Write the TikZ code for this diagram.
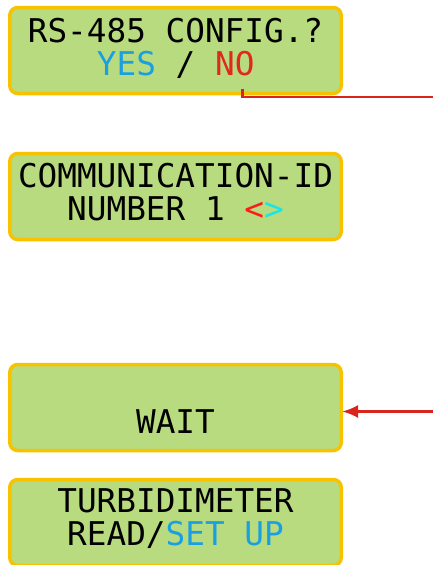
\documentclass[tikz,border=0pt]{standalone}
\usepackage{fontspec}
\usetikzlibrary{arrows.meta}
\newfontfamily\lcdfont{DejaVu Sans Mono}
\definecolor{lcdgreen}{HTML}{B8DB80}
\definecolor{lcdframe}{HTML}{F7C300}
\definecolor{lcdblue}{HTML}{1A9FE0}
\definecolor{lcdred}{HTML}{E0281E}
\definecolor{keyred}{HTML}{FF1A1A}
\definecolor{keycyan}{HTML}{1AE5E5}
\definecolor{linkred}{HTML}{D8261E}

\begin{document}
\begin{tikzpicture}[x=1pt,y=-1pt,
    lcd/.style={draw=lcdframe, fill=lcdgreen, line width=3.5pt, rounded corners=8pt,
                minimum width=331.5pt, minimum height=86pt},
    row/.style={anchor=base, inner sep=0pt, font=\lcdfont\fontsize{32.7}{33}\selectfont},
    link/.style={linkred, line width=2.6pt}]
        \useasboundingbox (0,0) rectangle (433,565);
        % displays
        \node[lcd] (config) at (175.5,50.5) {};
        \node[lcd] (commid) at (175.5,196.5) {};
        \node[lcd] (wait) at (175.5,407.5) {};
        \node[lcd] (turbid) at (175.5,522.5) {};
        % display rows
        \node[row] (config1) at (175.5,42) {RS-485 CONFIG.?};
        \node[row, anchor=base west] (yes) at (96.7,75) {\textcolor{lcdblue}{YES} /};
        \node[row, anchor=base west, text=lcdred] (no) at (214.9,75) {NO};
        \node[row] (commid1) at (175.5,187.5) {COMMUNICATION-ID};
        \node[row] (commid2) at (175.5,220) {NUMBER 1 \textcolor{keyred}{<}\textcolor{keycyan}{>}};
        \node[row] (wait1) at (175.5,433) {WAIT};
        \node[row] (turbid1) at (175.5,512) {TURBIDIMETER};
        \node[row] (turbid2) at (175.5,545) {READ/\textcolor{lcdblue}{SET UP}};
        % connectors
        \coordinate (noout) at (433,97);
        \coordinate (waitin) at (433,411.5);
        \draw[link] ([xshift=8pt,yshift=-13pt]no.south) |- (noout);
        \draw[link, -{Latex[length=16pt,width=13pt]}, shorten >=-1pt] (waitin) -- (waitin -| wait.east);
\end{tikzpicture}
\end{document}
